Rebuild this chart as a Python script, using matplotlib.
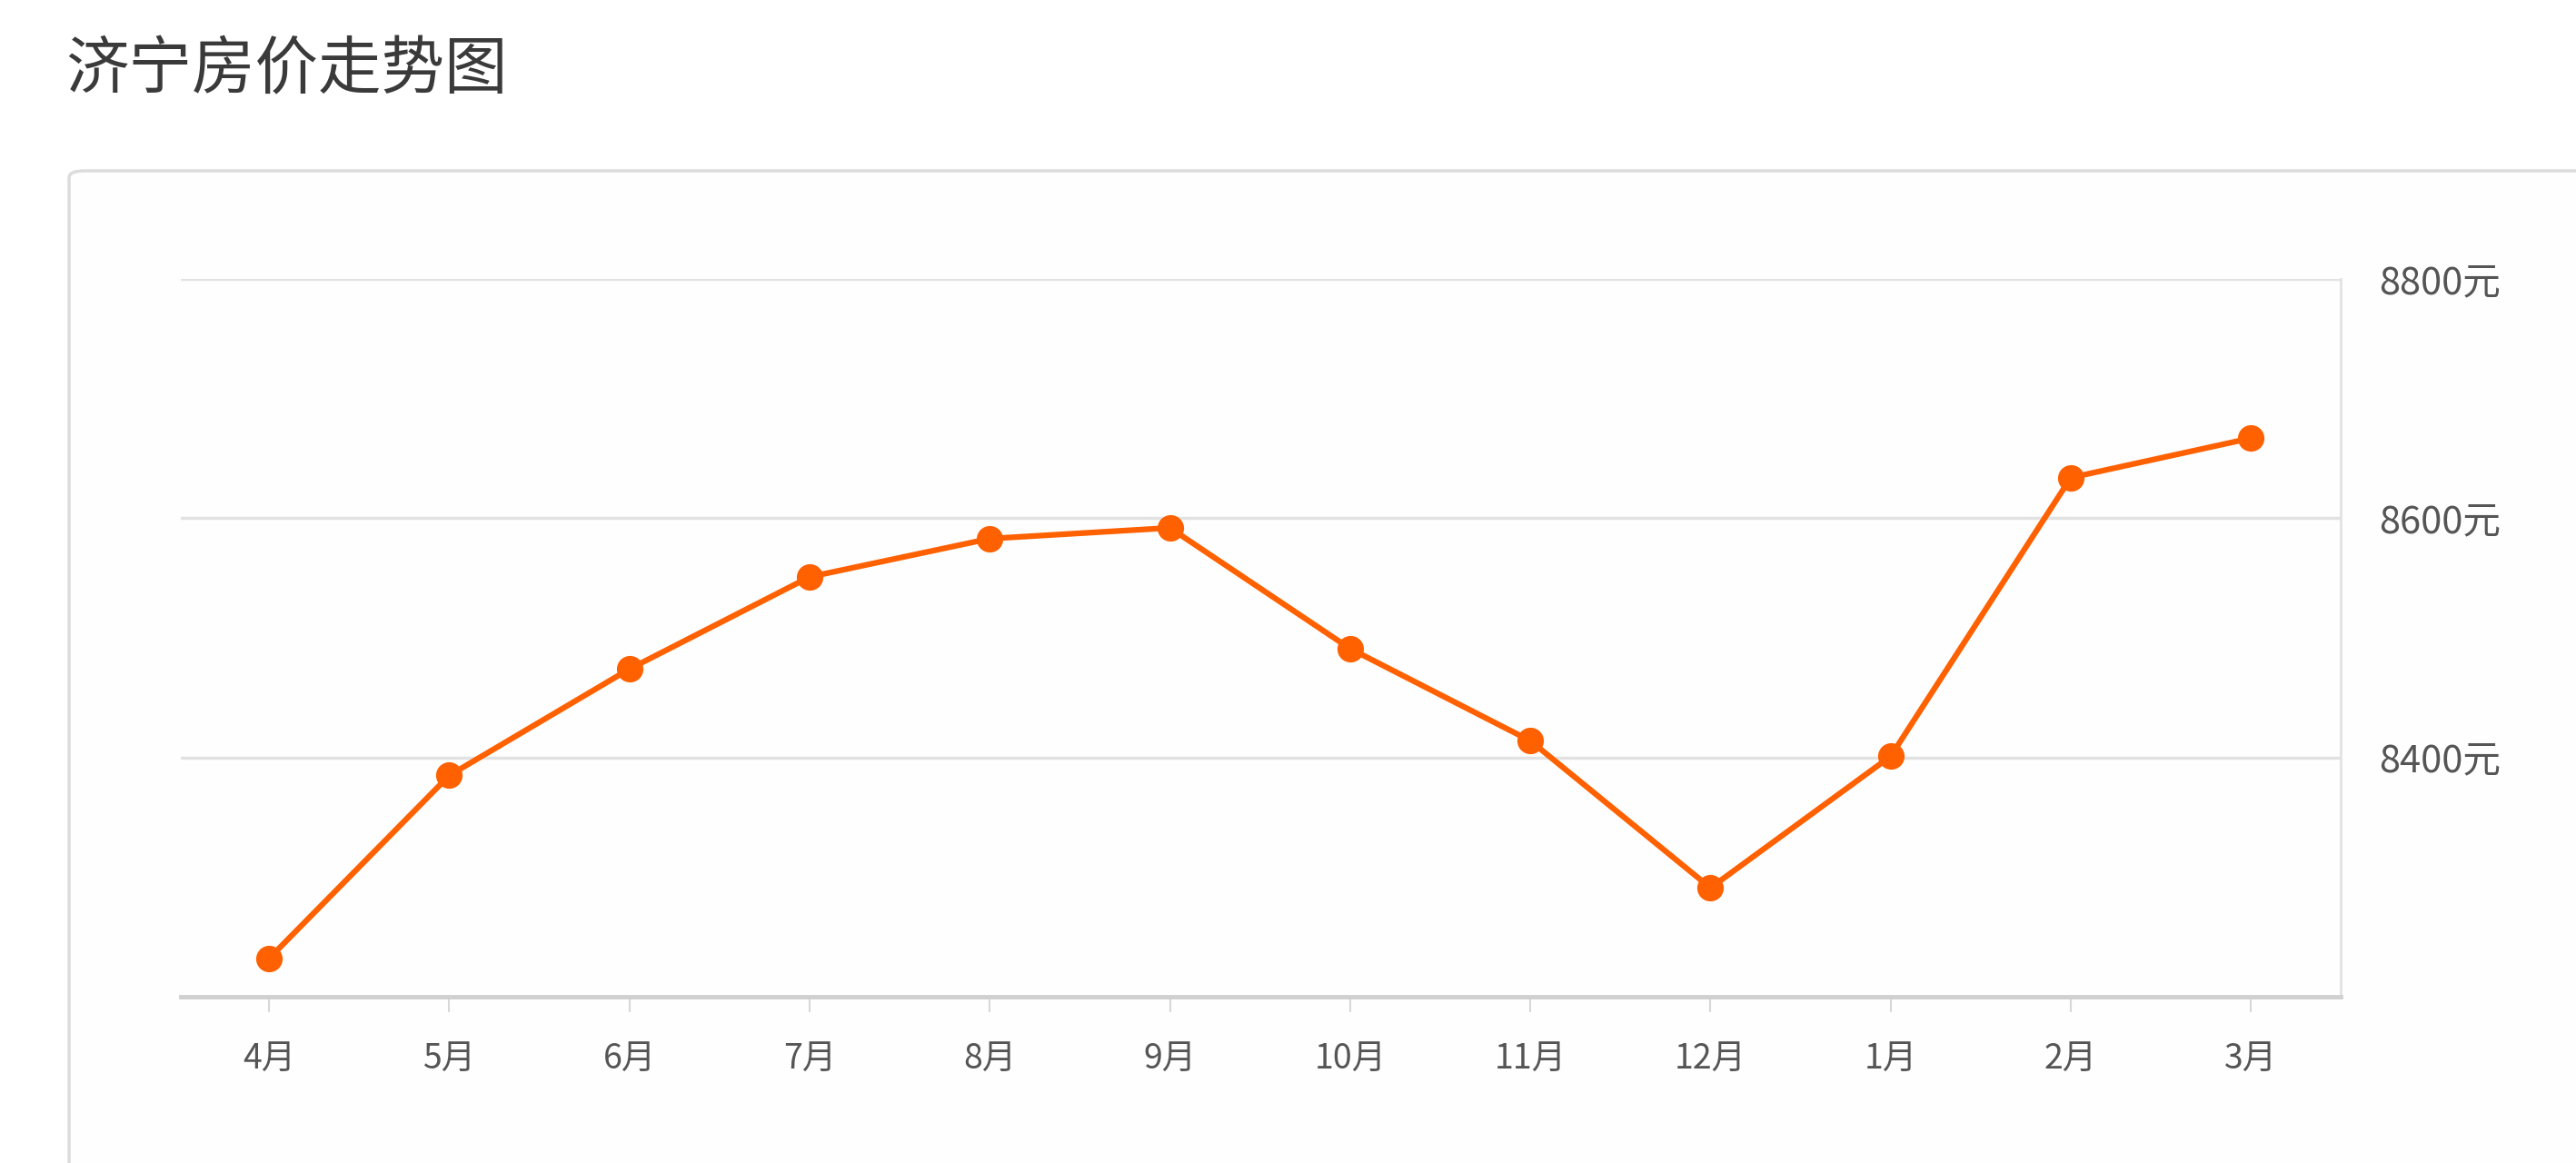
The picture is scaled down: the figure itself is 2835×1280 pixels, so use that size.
import matplotlib
matplotlib.use("Agg")
import matplotlib.pyplot as plt
from matplotlib.patches import FancyBboxPatch

plt.rcParams['font.family'] = ['Noto Sans CJK SC', 'DejaVu Sans']

# data
months = ["4月", "5月", "6月", "7月", "8月", "9月", "10月", "11月", "12月", "1月", "2月", "3月"]
prices = [8232, 8385, 8474, 8551, 8583, 8592, 8491, 8414, 8291, 8401, 8634, 8667]
y_ticks = [8400, 8600, 8800]
y_labels = ["8400元", "8600元", "8800元"]
title = "济宁房价走势图"

fig = plt.figure(figsize=(28.35, 12.8), dpi=100)
fig.patch.set_facecolor("white")

# outer card border (runs off the right and bottom edges)
card = FancyBboxPatch((76 / 2835, -0.2), 1.2, (1280 - 188) / 1280 + 0.2,
                      boxstyle="round,pad=0,rounding_size=0.006",
                      transform=fig.transFigure, facecolor="#fefefe",
                      edgecolor="#dcdcdc", linewidth=2.5, zorder=-10)
fig.patches.append(card)

fig.text(72 / 2835, 1 - 78 / 1280, title, fontsize=50, color="#3a3a3a",
         ha="left", va="center")

ax = fig.add_axes([0.0702, 0.143, 0.8386, 0.617])
ax.set_zorder(5)
ax.set_facecolor("none")

x = list(range(len(months)))
ax.plot(x, prices, color="#ff6000", linewidth=4.5, marker="o", markersize=21,
        markeredgewidth=0, zorder=3)

ax.set_xlim(-0.49, 11.5)
ax.set_ylim(8200, 8800)

ax.set_xticks(x)
ax.set_xticklabels(months)
ax.set_yticks(y_ticks)
ax.set_yticklabels(y_labels)
ax.yaxis.tick_right()
ax.tick_params(axis="y", length=0, pad=30, labelsize=30, labelcolor="#555555")
ax.tick_params(axis="x", length=12, width=1.5, color="#d8d8d8", pad=24,
               labelsize=27, labelcolor="#555555")

ax.grid(axis="y", color="#e2e2e2", linewidth=2.5)
ax.set_axisbelow(True)

for s in ["left", "top"]:
    ax.spines[s].set_visible(False)
ax.spines["right"].set_color("#e2e2e2")
ax.spines["right"].set_linewidth(2)
ax.spines["bottom"].set_color("#d0d0d0")
ax.spines["bottom"].set_linewidth(3.5)

fig.savefig("out.png", dpi=100)
